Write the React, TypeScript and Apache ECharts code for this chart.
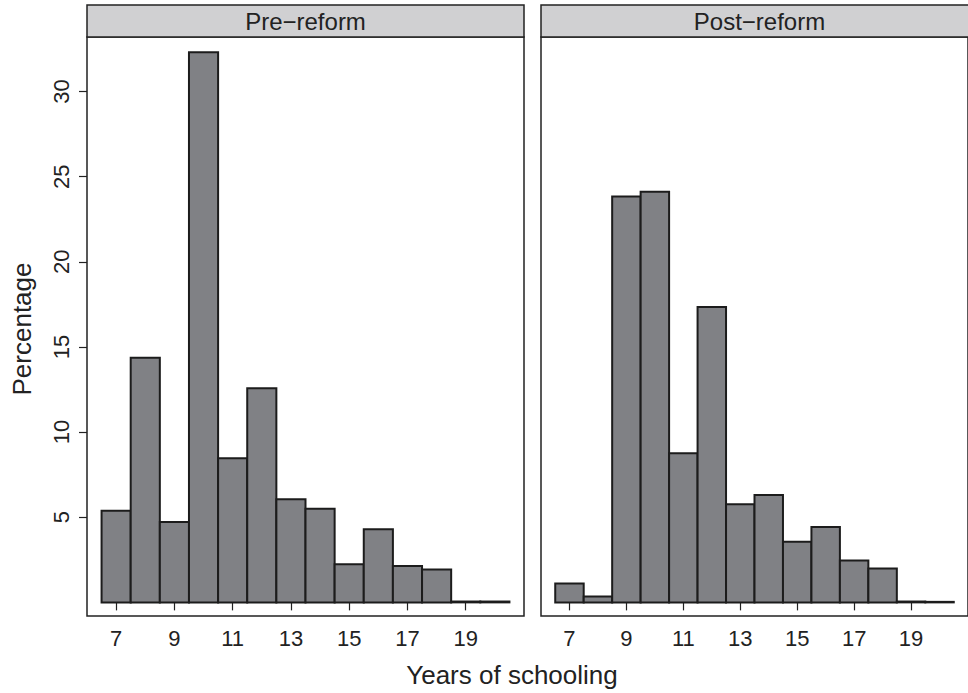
import React, { useEffect, useRef } from "react";
import * as echarts from "echarts";

const years = [7, 8, 9, 10, 11, 12, 13, 14, 15, 16, 17, 18, 19, 20];
const preReform = [5.38, 14.37, 4.72, 32.3, 8.47, 12.57, 6.05, 5.5, 2.24, 4.29, 2.14, 1.93, 0.05, 0.05];
const postReform = [1.11, 0.35, 23.83, 24.12, 8.75, 17.34, 5.76, 6.31, 3.56, 4.43, 2.46, 1.99, 0.05, 0.03];
const xTicks = [7, 9, 11, 13, 15, 17, 19];
const yTicks = [5, 10, 15, 20, 25, 30];
const panelTitles = ["Pre\u2212reform", "Post\u2212reform"];
const xTitle = "Years of schooling";
const yTitle = "Percentage";

const FONT = "'Liberation Sans', Arial, Helvetica, sans-serif";
const INK = "#222222";
const TICK_FONT = 22;

export default function App() {
  const ref = useRef<HTMLDivElement>(null);
  useEffect(() => {
    if (!ref.current) return;
    const chart = echarts.init(ref.current, null, { renderer: "svg" });
    const panels = [
      { left: 87, top: 37, width: 437, bottom: 77 },
      { left: 541, top: 37, width: 437, bottom: 77 },
    ];
    const seriesData = [preReform, postReform];

    const renderItem = (params: any, api: any) => {
      const x = api.value(0);
      const v = api.value(1);
      const p1 = api.coord([x - 0.5, v]);
      const p2 = api.coord([x + 0.5, 0]);
      return {
        type: "rect",
        shape: { x: p1[0], y: p1[1], width: p2[0] - p1[0], height: p2[1] - p1[1] },
        style: { fill: "#808185", stroke: "#1c1c1c", lineWidth: 2 },
      };
    };

    const graphic: any[] = [];
    panels.forEach((p, i) => {
      graphic.push({
        type: "rect",
        shape: { x: p.left, y: 5, width: p.width, height: 32 },
        style: { fill: "#d0d0d2", stroke: INK, lineWidth: 1.5 },
        z: 10,
      });
      graphic.push({
        type: "text",
        x: p.left + p.width / 2,
        y: 21,
        style: {
          text: panelTitles[i],
          fill: INK,
          font: `24px ${FONT}`,
          textAlign: "center",
          textVerticalAlign: "middle",
        },
        z: 11,
      });
    });
    graphic.push({
      type: "text",
      x: 512,
      y: 675,
      style: { text: xTitle, fill: INK, font: `26px ${FONT}`, textAlign: "center", textVerticalAlign: "middle" },
    });
    graphic.push({
      type: "text",
      x: 22,
      y: 329,
      rotation: Math.PI / 2,
      style: { text: yTitle, fill: INK, font: `26px ${FONT}`, textAlign: "center", textVerticalAlign: "middle" },
    });

    chart.setOption({
      animation: false,
      backgroundColor: "#ffffff",
      grid: panels.map((p) => ({
        left: p.left,
        top: p.top,
        width: p.width,
        bottom: p.bottom,
        show: true,
        borderColor: INK,
        borderWidth: 1.5,
        backgroundColor: "transparent",
        containLabel: false,
      })),
      xAxis: panels.map((_, i) => ({
        type: "value",
        gridIndex: i,
        min: 6.0,
        max: 21.0,
        axisLine: { show: false },
        splitLine: { show: false },
        axisTick: {
          show: true,
          length: 8,
          customValues: xTicks,
          lineStyle: { color: INK, width: 1.2 },
        },
        axisLabel: {
          show: true,
          customValues: xTicks,
          color: INK,
          fontSize: TICK_FONT,
          fontFamily: FONT,
          margin: 11,
        },
      })),
      yAxis: panels.map((_, i) => ({
        type: "value",
        gridIndex: i,
        min: -0.8,
        max: 33.2,
        axisLine: { show: false },
        splitLine: { show: false },
        axisTick: {
          show: i === 0,
          length: 8,
          customValues: yTicks,
          lineStyle: { color: INK, width: 1.2 },
        },
        axisLabel: {
          show: i === 0,
          customValues: yTicks,
          rotate: 90,
          color: INK,
          fontSize: TICK_FONT,
          fontFamily: FONT,
          margin: 15,
        },
      })),
      series: seriesData.map((arr, i) => ({
        type: "custom",
        xAxisIndex: i,
        yAxisIndex: i,
        renderItem,
        encode: { x: 0, y: 1 },
        data: years.map((y, k) => [y, arr[k]]),
      })),
      graphic,
    });
    return () => chart.dispose();
  }, []);
  return (
    <div
      ref={ref}
      style={{ position: "fixed", left: 0, top: 0, width: 968, height: 693, background: "#fff" }}
    />
  );
}
